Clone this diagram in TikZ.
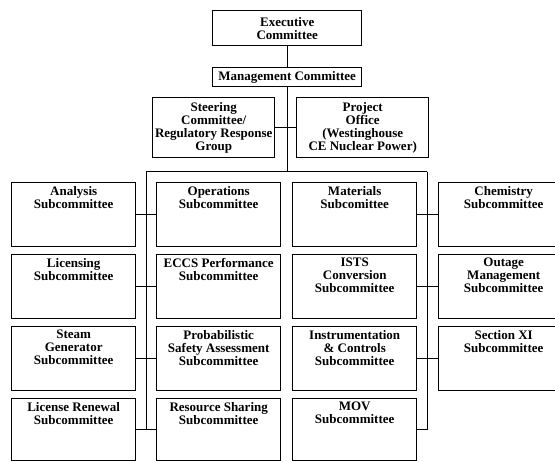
\documentclass[tikz,border=0pt]{standalone}
\usepackage{fontspec}
\setmainfont{Liberation Serif}
\usetikzlibrary{calc}

\tikzset{
  chart font/.style={font=\fontsize{13}{13}\selectfont\bfseries},
  box/.style={draw, line width=1.4pt, anchor=north west, inner sep=0pt, align=center, chart font},
  sub/.style={box, minimum width=124pt, minimum height=64pt},
  heading/.style={label={[anchor=north, align=center, inner sep=0pt, yshift=-4pt, chart font]north:#1}},
  link/.style={line width=1pt},
}

\begin{document}
\begin{tikzpicture}[x=1pt, y=-1pt]
    \clip (0,0) rectangle (555,462);
    \def\Ca{11} \def\Cb{156} \def\Cc{292} \def\Cd{438}
    \def\Ra{182} \def\Rb{254} \def\Rc{326} \def\Rd{398}

    % upper part
    \node[box, minimum width=149pt, minimum height=35pt] (exe) at (212,10) {Executive\\Committee};
    \node[box, minimum width=149pt, minimum height=19pt] (mgt) at (212,67) {Management Committee};
    \node[box, minimum width=122pt, minimum height=60pt] (steer) at (152,97)
        {Steering\\Committee/\\Regulatory Response\\Group};
    \node[box, minimum width=132pt, minimum height=60pt] (proj) at (296,97)
        {Project\\Office\\(Westinghouse\\CE Nuclear Power)};

    % subcommittees
    \node[sub, heading={Analysis\\Subcommittee}] (ana) at (\Ca,\Ra) {};
    \node[sub, heading={Operations\\Subcommittee}] (ops) at (\Cb,\Ra) {};
    \node[sub, heading={Materials\\Subcomittee}] (mat) at (\Cc,\Ra) {};
    \node[sub, minimum width=130pt, heading={Chemistry\\Subcommittee}] (chem) at (\Cd,\Ra) {};

    \node[sub, heading={Licensing\\Subcommittee}] (lic) at (\Ca,\Rb) {};
    \node[sub, heading={ECCS Performance\\Subcommittee}] (eccs) at (\Cb,\Rb) {};
    \node[sub, heading={ISTS\\Conversion\\Subcommittee}] (ists) at (\Cc,\Rb) {};
    \node[sub, minimum width=130pt, heading={Outage\\Management\\Subcommittee}] (outage) at (\Cd,\Rb) {};

    \node[sub, heading={Steam\\Generator\\Subcommittee}] (steam) at (\Ca,\Rc) {};
    \node[sub, heading={Probabilistic\\Safety Assessment\\Subcommittee}] (psa) at (\Cb,\Rc) {};
    \node[sub, heading={Instrumentation\\\& Controls\\Subcommittee}] (inst) at (\Cc,\Rc) {};
    \node[sub, minimum width=130pt, heading={Section XI\\Subcommittee}] (secxi) at (\Cd,\Rc) {};

    \node[sub, minimum height=62pt, heading={License Renewal\\Subcommittee}] (renew) at (\Ca,\Rd) {};
    \node[sub, minimum height=62pt, heading={Resource Sharing\\Subcommittee}] (share) at (\Cb,\Rd) {};
    \node[sub, minimum height=62pt, heading={MOV\\Subcommittee}] (mov) at (\Cc,\Rd) {};

    % connectors
    \coordinate (lbus) at (146,172);
    \coordinate (rbus) at (427,172);
    \draw[link] (exe) -- (mgt);
    \draw[link] (mgt) -- (mgt.south |- lbus);
    \draw[link] (steer) -- (proj);
    \draw[link] (lbus) -- (rbus);
    \draw[link] (lbus) -- (lbus |- renew.east);
    \draw[link] (rbus) -- (rbus |- mov.east) -- (mov.east);
    \draw[link] (ana) -- (ops);
    \draw[link] (lic) -- (eccs);
    \draw[link] (steam) -- (psa);
    \draw[link] (renew) -- (share);
    \draw[link] (mat) -- (chem);
    \draw[link] (ists) -- (outage);
    \draw[link] (inst) -- (secxi);
\end{tikzpicture}
\end{document}
